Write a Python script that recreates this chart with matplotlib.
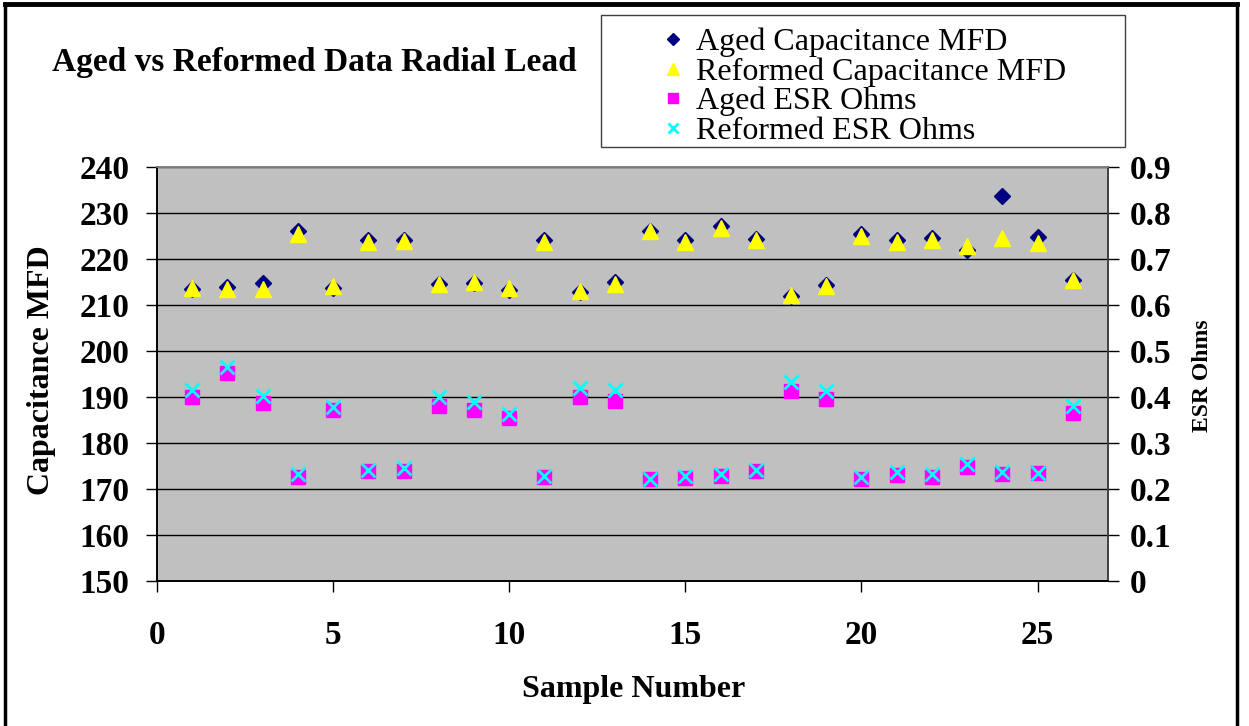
import matplotlib
matplotlib.use("Agg")
import matplotlib.pyplot as plt
from matplotlib.lines import Line2D
from matplotlib.patches import Rectangle

# data
samples = list(range(1, 27))
aged_cap = [213.4, 214.0, 214.8, 226.0, 213.7, 224.2, 224.2, 214.6, 214.8, 213.3,
            224.2, 212.8, 215.0, 226.1, 224.2, 227.2, 224.3, 211.9, 214.3, 225.5,
            224.2, 224.6, 222.0, 233.8, 224.8, 215.5]
reformed_cap = [213.8, 213.5, 213.4, 225.4, 214.2, 223.8, 223.9, 214.6, 215.1, 213.8,
                223.8, 213.0, 214.6, 226.0, 223.8, 226.7, 224.2, 212.1, 214.2, 224.9,
                223.8, 224.2, 222.9, 224.6, 223.4, 215.5]
aged_esr = [0.399, 0.452, 0.386, 0.227, 0.372, 0.239, 0.240, 0.381, 0.372, 0.355,
            0.226, 0.399, 0.392, 0.221, 0.224, 0.228, 0.240, 0.412, 0.396, 0.222,
            0.231, 0.226, 0.247, 0.232, 0.234, 0.365]
reformed_esr = [0.415, 0.465, 0.403, 0.233, 0.379, 0.241, 0.246, 0.399, 0.389, 0.363,
                0.228, 0.420, 0.416, 0.222, 0.228, 0.232, 0.241, 0.432, 0.412, 0.227,
                0.237, 0.232, 0.254, 0.237, 0.234, 0.381]

cap_ticks = list(range(150, 241, 10))
esr_ticks = [0, 0.1, 0.2, 0.3, 0.4, 0.5, 0.6, 0.7, 0.8, 0.9]
esr_labels = ["0", "0.1", "0.2", "0.3", "0.4", "0.5", "0.6", "0.7", "0.8", "0.9"]
x_ticks = [0, 5, 10, 15, 20, 25]

plt.rcParams['font.family'] = ['Liberation Serif', 'DejaVu Serif']

fig = plt.figure(figsize=(12.49, 7.26), dpi=100)
ax = fig.add_axes([157/1249, 1 - 581/726, (1108-157)/1249, (581-167)/726])
ax.set_facecolor("#C0C0C0")

ax.plot(samples, aged_cap, linestyle="none", marker="D", markersize=8,
        color="#000080", label="Aged Capacitance MFD", zorder=3)
ax.plot(samples, reformed_cap, linestyle="none", marker="^", markersize=11,
        color="#FFFF00", label="Reformed Capacitance MFD", zorder=4)

ax.set_xlim(0, 27)
ax.set_ylim(150, 240)
ax.set_xticks(x_ticks)
ax.set_yticks(cap_ticks)
ax.yaxis.grid(True, color="black", linewidth=1.0)
ax.set_axisbelow(True)

ax2 = ax.twinx()
ax2.plot(samples, aged_esr, linestyle="none", marker="s", markersize=10,
         color="#FF00FF", label="Aged ESR Ohms", zorder=3)
ax2.plot(samples, reformed_esr, linestyle="none", marker="x", markersize=10,
         markeredgewidth=2, color="#00FFFF", label="Reformed ESR Ohms", zorder=4)
ax2.set_ylim(0, 0.9)
ax2.set_yticks(esr_ticks)
ax2.set_yticklabels(esr_labels)

for a in (ax, ax2):
    a.spines["top"].set_color("#808080")
    a.spines["left"].set_color("black")
    a.spines["bottom"].set_color("black")
    a.spines["right"].set_color("#404040")
    for s in a.spines.values():
        s.set_linewidth(1.2)

ax.tick_params(axis="y", direction="out", length=8, width=1, pad=12,
               labelsize=24)
ax.tick_params(axis="x", direction="out", length=8, width=1, pad=20,
               labelsize=24)
ax2.tick_params(axis="y", direction="out", length=8, width=1, pad=8,
                labelsize=24)
for lab in ax.get_xticklabels() + ax.get_yticklabels() + ax2.get_yticklabels():
    lab.set_fontweight("bold")

fig.text(42/1249, 1 - 370/726, "Capacitance MFD", rotation=90, ha="center",
         va="center", fontsize=23, fontweight="bold")
fig.text(634/1249, 1 - 689/726, "Sample Number", ha="center", va="center",
         fontsize=23, fontweight="bold")
fig.text(1203/1249, 1 - 376/726, "ESR Ohms", rotation=90, ha="center",
         va="center", fontsize=17, fontweight="bold")
fig.text(314/1249, 1 - 63/726, "Aged vs Reformed Data Radial Lead",
         ha="center", va="center", fontsize=24, fontweight="bold")

# legend box
fig.patches.append(Rectangle((601/1249, 1 - 147/726), 524/1249, 132/726,
                             transform=fig.transFigure, fill=False,
                             edgecolor="#404040", linewidth=1.0))
h1, l1 = ax.get_legend_handles_labels()
h2, l2 = ax2.get_legend_handles_labels()
fig.legend(h1 + h2, l1 + l2, loc="upper left",
           bbox_to_anchor=(646/1249, 1 - 12/726), frameon=False,
           fontsize=23, handlelength=0.7, handletextpad=0.35,
           labelspacing=0.0, borderpad=0, markerscale=0.75)

# outer frame
fig.add_artist(Line2D([5/1249, 5/1249], [0, 1 - 4/726], color="black",
                      linewidth=2.5, transform=fig.transFigure))
fig.add_artist(Line2D([5/1249, 1237/1249], [1 - 4/726, 1 - 4/726], color="black",
                      linewidth=3.5, transform=fig.transFigure))
fig.add_artist(Line2D([1237/1249, 1237/1249], [1 - 4/726, 0], color="black",
                      linewidth=2.5, transform=fig.transFigure))

fig.savefig("out.png", dpi=100)
